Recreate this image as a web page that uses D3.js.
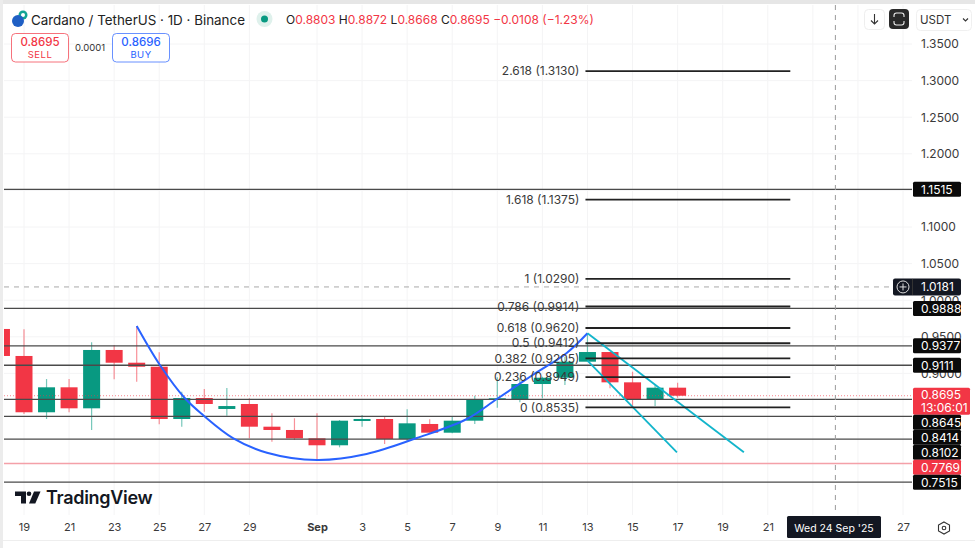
<!DOCTYPE html>
<html><head><meta charset="utf-8">
<script src="https://cdn.jsdelivr.net/npm/d3@7/dist/d3.min.js"></script>
<style>html,body{margin:0;padding:0;background:#fff}svg{display:block}text{font-family:Inter,"Noto Sans",sans-serif}</style>
</head><body><svg id="c" width="975" height="548"></svg>
<script>
const dates=["2025-08-18","2025-08-19","2025-08-20","2025-08-21","2025-08-22","2025-08-23","2025-08-24","2025-08-25","2025-08-26","2025-08-27","2025-08-28","2025-08-29","2025-08-30","2025-08-31","2025-09-01","2025-09-02","2025-09-03","2025-09-04","2025-09-05","2025-09-06","2025-09-07","2025-09-08","2025-09-09","2025-09-10","2025-09-11","2025-09-12","2025-09-13","2025-09-14","2025-09-15","2025-09-16","2025-09-17"];
const opens =[.9607,.9238,.8469,.8810,.8523,.9320,.9146,.9091,.8377,.8664,.8514,.8582,.8272,.8227,.8113,.8018,.8350,.8377,.8104,.8309,.8190,.8354,.8646,.8650,.8855,.8941,.9160,.9292,.8878,.8637,.8805];
const highs =[.9607,.9602,.8923,.8923,.9425,.9388,.9648,.9288,.8750,.8787,.8801,.8660,.8455,.8387,.8455,.8363,.8432,.8418,.8510,.8373,.8418,.8695,.8947,.8937,.8955,.9228,.9548,.9292,.9023,.8841,.8872];
const lows  =[.9238,.8445,.8377,.8469,.8227,.8919,.8886,.8305,.8272,.8477,.8422,.8113,.8067,.8090,.7817,.7990,.8272,.8035,.8067,.8182,.8182,.8309,.8531,.8605,.8660,.8841,.9160,.8796,.8555,.8555,.8668];
const closes=[.9238,.8469,.8810,.8523,.9320,.9146,.9091,.8377,.8664,.8582,.8554,.8272,.8227,.8113,.8018,.8354,.8377,.8104,.8318,.8190,.8354,.8650,.8660,.8855,.8941,.9160,.9292,.8878,.8637,.8805,.8695];
const levels=[1.1515,.9888,.9377,.9111,.8645,.8414,.8102,.7515];
const supportLevel=.7769, lastPrice=.8695, crossPrice=1.0181;
const fibRatios=["2.618","1.618","1","0.786","0.618","0.5","0.382","0.236","0"];
const fibPrices=[1.3130,1.1375,1.0290,.9914,.9620,.9412,.9205,.8949,.8535];
const curveDays=[5,6.03,7.14,7.94,9.27,10.78,13,15.2,17.43,19.65,20.98,22.57,24.08,25];
const curvePrices=[.9648,.9115,.8660,.8432,.8117,.7917,.7817,.7899,.8117,.8377,.8650,.8978,.9279,.9548];
const channelDays=[[25,31.94],[25,28.97]];
const channelPrices=[[.9548,.7922],[.9174,.7922]];
const priceTicks=[1.35,1.30,1.25,1.20,1.15,1.10,1.05,1.00,.95,.90];
const hiddenPriceTicks=[1.15];
const timeTicks=["2025-08-19","2025-08-21","2025-08-23","2025-08-25","2025-08-27","2025-08-29","2025-09-01","2025-09-03","2025-09-05","2025-09-07","2025-09-09","2025-09-11","2025-09-13","2025-09-15","2025-09-17","2025-09-19","2025-09-21","2025-09-27"];
const gridExtra=["2025-09-23","2025-09-25"];

const D=s=>new Date(s+"T00:00:00Z");
const RED="#f23645",GREEN="#089981";
const L=4,R=912,T=5,B=515;
const x=d3.scaleUtc().domain([D("2025-08-19"),D("2025-09-27")]).range([24,903]);
const y=d3.scaleLinear().domain([.9,1.35]).range([373.4,44]);
const dayX=d=>x(new Date(+D("2025-08-19")+d*864e5));
const svg=d3.select("#c");
svg.append("defs").append("clipPath").attr("id","pl").append("rect").attr("x",L).attr("y",T).attr("width",R-L).attr("height",B-T);

// frame
svg.append("rect").attr("width",975).attr("height",4).attr("fill","#e6e6e6");
svg.append("rect").attr("width",3).attr("height",548).attr("fill","#ececec");
svg.append("rect").attr("x",3).attr("y",540).attr("width",972).attr("height",1).attr("fill","#eeeeee");

// grid
const grid=svg.append("g").attr("stroke","#f4f4f5").attr("stroke-width",1);
grid.selectAll(".v").data(timeTicks.concat(gridExtra)).join("line").attr("x1",d=>x(D(d))).attr("x2",d=>x(D(d))).attr("y1",T).attr("y2",B);
grid.selectAll(".h").data(priceTicks).join("line").attr("x1",L).attr("x2",R).attr("y1",d=>y(d)).attr("y2",d=>y(d));

const plot=svg.append("g").attr("clip-path","url(#pl)");
// candles
const rows=dates.map((d,i)=>({d:D(d),o:opens[i],h:highs[i],l:lows[i],c:closes[i]}));
const cg=plot.selectAll(".cd").data(rows).join("g");
cg.append("line").attr("x1",d=>x(d.d)).attr("x2",d=>x(d.d)).attr("y1",d=>y(d.h)).attr("y2",d=>y(d.l))
  .attr("stroke",d=>d.c>=d.o?GREEN:RED).attr("stroke-opacity",.55).attr("stroke-width",1.2);
cg.append("rect").attr("x",d=>x(d.d)-8.5).attr("width",17).attr("y",d=>y(Math.max(d.o,d.c)))
  .attr("height",d=>Math.max(1.5,Math.abs(y(d.o)-y(d.c)))).attr("fill",d=>d.c>=d.o?GREEN:RED);

// last price dotted
plot.append("line").attr("x1",L).attr("x2",R).attr("y1",y(lastPrice)).attr("y2",y(lastPrice)).attr("stroke",RED).attr("stroke-opacity",.6).attr("stroke-dasharray","1 2");
// levels
plot.selectAll(".lv").data(levels).join("line").attr("x1",L).attr("x2",R).attr("y1",d=>y(d)).attr("y2",d=>y(d)).attr("stroke","#4a4a4a").attr("stroke-width",1.3);
plot.append("line").attr("x1",L).attr("x2",R).attr("y1",y(supportLevel)).attr("y2",y(supportLevel)).attr("stroke","#f4a0a8").attr("stroke-width",1.5);

// fib
const fibX1=x(D("2025-09-13"))-2,fibX2=x(D("2025-09-22"));
const fg=svg.append("g");
fg.selectAll("line").data(fibPrices).join("line").attr("x1",fibX1).attr("x2",fibX2).attr("y1",d=>y(d)).attr("y2",d=>y(d)).attr("stroke","#222").attr("stroke-width",1.8);
fg.selectAll("text").data(fibPrices).join("text").attr("x",fibX1-6).attr("y",d=>y(d)).attr("dy","0.35em").attr("text-anchor","end").attr("font-size",12).attr("fill","#3a3a3a")
  .text((d,i)=>`${fibRatios[i]} (${d.toFixed(4)})`);

// curve + channel
const ln=d3.line().x(d=>dayX(d[0])).y(d=>y(d[1]));
plot.append("path").attr("d",ln.curve(d3.curveCatmullRom.alpha(.5))(curveDays.map((d,i)=>[d,curvePrices[i]]))).attr("fill","none").attr("stroke","#2962ff").attr("stroke-width",2);
ln.curve(d3.curveLinear);
channelDays.forEach((dd,k)=>{plot.append("path").attr("d",ln(dd.map((d,i)=>[d,channelPrices[k][i]]))).attr("fill","none").attr("stroke","#12b5cb").attr("stroke-width",1.8);});

// crosshair
const crossX=x(D("2025-09-24"));
svg.append("line").attr("x1",crossX).attr("x2",crossX).attr("y1",T).attr("y2",B).attr("stroke","#9a9a9a").attr("stroke-dasharray","5 5");
svg.append("line").attr("x1",L).attr("x2",893).attr("y1",y(crossPrice)).attr("y2",y(crossPrice)).attr("stroke","#a8a8a8").attr("stroke-dasharray","5 5");

// axes
const ya=svg.append("g").attr("transform","translate(921,0)").call(d3.axisRight(y).tickValues(priceTicks.filter(t=>!hiddenPriceTicks.includes(t))).tickSize(0).tickPadding(0).tickFormat(d3.format(".4f")));
ya.select(".domain").remove();ya.selectAll("text").attr("font-size",12).attr("fill","#3a3a3a").attr("font-family","Inter");
const xa=svg.append("g").attr("transform","translate(0,520)").call(d3.axisBottom(x).tickValues(timeTicks.map(D)).tickSize(0).tickPadding(3).tickFormat(d=>d.getUTCDate()===1?"Sep":d.getUTCDate()));
xa.select(".domain").remove();xa.selectAll("text").attr("font-size",11).attr("fill","#3a3a3a").attr("font-family","Inter").attr("font-weight",d=>d.getUTCDate()===1?700:400);

// price labels (stacked so that they never overlap)
const lab=svg.append("g");
function tag(yc,h,w,fill,lines){
  lab.append("rect").attr("x",913).attr("y",yc-h/2).attr("width",w).attr("height",h).attr("rx",1.5).attr("fill",fill);
  lines.forEach((t,i)=>lab.append("text").attr("x",921).attr("y",yc+(i-(lines.length-1)/2)*13).attr("dy","0.36em").attr("font-size",12).attr("fill","#fff").text(t));
}
tag(y(1.1515),15,48,"#0a0a0a",["1.1515"]);
[.9888,.9377,.9111].forEach(v=>tag(y(v),15,48,"#0a0a0a",[v.toFixed(4)]));
tag(y(lastPrice)+5.5,27,57,RED,[lastPrice.toFixed(4),"13:06:01"]);
let prev=y(lastPrice)+19;
[[.8645,"#0a0a0a"],[.8414,"#0a0a0a"],[.8102,"#0a0a0a"],[supportLevel,RED],[.7515,"#0a0a0a"]].forEach(([v,f])=>{
  const yc=Math.max(y(v),prev+7.5);tag(yc,15,48,f,[v.toFixed(4)]);prev=yc+7.5;
});
// crosshair labels
lab.append("rect").attr("x",893).attr("y",y(crossPrice)-8.5).attr("width",68).attr("height",17).attr("rx",2).attr("fill","#131722");
lab.append("line").attr("x1",912.5).attr("x2",912.5).attr("y1",y(crossPrice)-8).attr("y2",y(crossPrice)+8).attr("stroke","#333");
lab.append("circle").attr("cx",903).attr("cy",y(crossPrice)).attr("r",6).attr("fill","none").attr("stroke","#ddd");
lab.append("path").attr("d",`M899.5 ${y(crossPrice)}h7M903 ${y(crossPrice)-3.5}v7`).attr("stroke","#ddd");
lab.append("text").attr("x",921).attr("y",y(crossPrice)).attr("dy","0.36em").attr("font-size",12).attr("fill","#fff").text(crossPrice.toFixed(4));
lab.append("rect").attr("x",787).attr("y",516).attr("width",94).attr("height",22).attr("rx",1.5).attr("fill","#131722");
lab.append("text").attr("x",834).attr("y",528).attr("dy","0.36em").attr("text-anchor","middle").attr("font-size",10.5).attr("fill","#fff").text("Wed 24 Sep '25");

// header
const h=svg.append("g");
h.append("circle").attr("cx",23).attr("cy",15).attr("r",4.5).attr("fill","#12a594");
h.append("circle").attr("cx",23).attr("cy",15).attr("r",2).attr("fill","#fff");
h.append("circle").attr("cx",18).attr("cy",21).attr("r",6).attr("fill","#1f5fc4");
h.append("text").attr("x",31).attr("y",24.5).attr("font-size",13.4).attr("fill","#222").text("Cardano / TetherUS · 1D · Binance");
h.append("circle").attr("cx",264.5).attr("cy",19).attr("r",8).attr("fill","#dff1ec");
h.append("circle").attr("cx",264.5).attr("cy",19).attr("r",3.5).attr("fill",GREEN);
const ohlc=h.append("text").attr("x",286).attr("y",24).attr("font-size",12);
[["O","#222"],["0.8803",RED],[" H","#222"],["0.8872",RED],[" L","#222"],["0.8668",RED],[" C","#222"],["0.8695",RED],[" −0.0108 (−1.23%)",RED]].forEach(([t,f])=>ohlc.append("tspan").attr("fill",f).attr("xml:space","preserve").style("white-space","pre").text(t));
function trade(x0,col,price,name){
  h.append("rect").attr("x",x0).attr("y",33.5).attr("width",57).attr("height",28.5).attr("rx",4).attr("fill","#fff").attr("stroke",col).attr("stroke-opacity",.7);
  h.append("text").attr("x",x0+28.5).attr("y",46).attr("text-anchor","middle").attr("font-size",11.5).attr("font-weight",500).attr("fill",col).text(price);
  h.append("text").attr("x",x0+28.5).attr("y",58).attr("text-anchor","middle").attr("font-size",9.5).attr("letter-spacing",.5).attr("fill",col).text(name);
}
trade(11.5,RED,"0.8695","SELL");trade(112.5,"#2962ff","0.8696","BUY");
h.append("text").attr("x",90).attr("y",51).attr("text-anchor","middle").attr("font-size",9.5).attr("fill","#333").text("0.0001");

// top right buttons
const b=svg.append("g");
b.append("rect").attr("x",864.5).attr("y",9.5).attr("width",20).attr("height",20).attr("rx",4).attr("fill","#fff").attr("stroke","#eee");
b.append("path").attr("d","M874.5 14v10M871 20.5l3.5 3.5 3.5-3.5").attr("fill","none").attr("stroke","#333").attr("stroke-width",1.1);
b.append("rect").attr("x",889).attr("y",9).attr("width",20).attr("height",20).attr("rx",4).attr("fill","#2a2a2a");
b.append("path").attr("d","M894 17v-1.5a2.5 2.5 0 0 1 2.5-2.5h5a2.5 2.5 0 0 1 2.5 2.5V17M894 21v1.5a2.5 2.5 0 0 0 2.5 2.5h5a2.5 2.5 0 0 0 2.5-2.5V21").attr("fill","none").attr("stroke","#eee").attr("stroke-width",1.1);
b.append("rect").attr("x",916.5).attr("y",9.5).attr("width",55).attr("height",21).attr("rx",4).attr("fill","#fff").attr("stroke","#f0f0f0");
b.append("text").attr("x",920).attr("y",24).attr("font-size",11.5).attr("fill","#333").text("USDT");
b.append("path").attr("d","M963 18.5l2.5 2.5 2.5-2.5").attr("fill","none").attr("stroke","#333").attr("stroke-width",1.1);
// settings icon
b.append("path").attr("d","M944 522l5.5 3v6l-5.5 3-5.5-3v-6z").attr("fill","none").attr("stroke","#333").attr("stroke-width",1.1);
b.append("circle").attr("cx",944).attr("cy",528).attr("r",1.8).attr("fill","none").attr("stroke","#333").attr("stroke-width",1.1);

// logo
const lg=svg.append("g").attr("fill","#131722");
lg.append("path").attr("d","M15 491.5h11v12h-5v-7.5h-6z");
lg.append("circle").attr("cx",29).attr("cy",493.8).attr("r",2.3);
lg.append("path").attr("d","M34 491.5h6.5l-5.2 12h-6.3z");
lg.append("text").attr("x",46).attr("y",504).attr("font-size",18).attr("font-weight",600).attr("letter-spacing",-.3).attr("fill","#131722").text("TradingView");
</script></body></html>
